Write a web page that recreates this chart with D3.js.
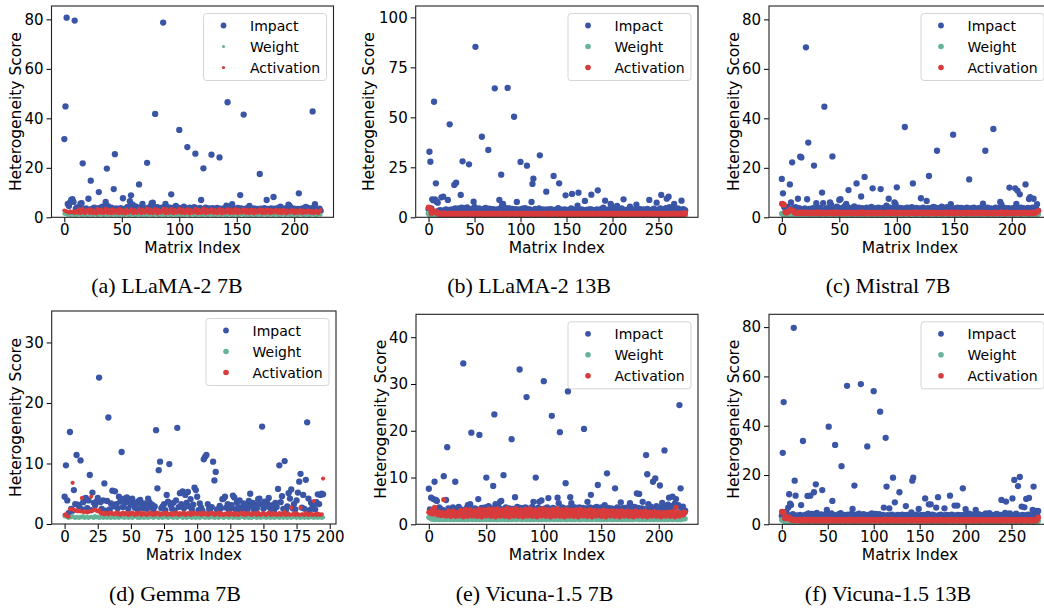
<!DOCTYPE html>
<html>
<head>
<meta charset="utf-8">
<script src="https://cdn.jsdelivr.net/npm/d3@7"></script>
<style>
body { margin: 0; background: #fff; }
svg { display: block; }
</style>
</head>
<body>
<svg id="chart" width="1044" height="608"></svg>
<script>

// ---- data (index = matrix index) ----
const impactA = [31.6,44.8,80.7,5.4,4.6,6,7,7.3,6.2,79.5,3.5,4,3.2,3.8,5.5,5.7,21.8,3.3,2.8,3.6,
2.5,7.5,3.1,14.8,3.4,2.7,3.9,3,2.4,3.6,10.2,3.8,3.1,4.3,2.9,3.5,6.2,19.7,4.5,3.3,
2.8,3.9,3.4,11.4,25.5,3.6,2.9,3.2,2.6,3.7,3.3,7.7,2.9,3.5,3.1,4.2,3.4,6.5,8.9,5.2,
4.8,3.6,4.4,3.2,3.9,13.3,3.7,4.1,5.4,3.4,2.9,3.6,22,3.8,3.1,4.4,5.7,5.9,4.3,41.8,
3.5,4.1,3.2,3.7,2.8,3.9,78.7,4.2,5.4,3.6,3.1,4,3.3,9.3,3.8,3.1,2.7,4.6,3.4,3.9,
35.3,3.6,3.2,2.9,4.3,3.7,3.1,28.4,3.5,3.9,3,3.4,2.8,4.1,25.7,3.6,3.2,2.9,3.8,7,
3.3,19.8,3.5,3.9,3.1,2.7,3.6,3.2,25.3,3.7,3.4,2.9,3.1,3.8,3.3,24.2,3.5,2.8,3.2,3.6,
3,4.7,46.5,3.4,2.9,3.7,5.3,3.1,3.5,2.8,3.3,3.8,3.1,9,3.6,3.2,41.5,3.4,2.9,3.7,
3.2,4.6,3.5,3,2.7,3.6,3.2,2.9,3.4,3.1,17.5,3.5,2.8,3.3,3.7,3,7,3.4,3.1,2.7,
3.6,3.2,8.2,3.5,2.9,3.3,3.8,3.1,4.3,3.4,2.8,3.2,3.6,3,3.4,5.1,4.6,3.9,3.3,2.9,
3.5,3.1,2.7,3.4,9.7,3.2,2.9,3.6,3.1,2.8,4.2,3.5,3.8,3,3.3,3.6,42.8,3.9,5.3,3.4,
3.1,2.8,3.5,2.6]
const weightA = [1.4,1.3,1.1,1,1.2,0.9,1,1.1,1,1.2,0.9,1,1.1,1.2,1,0.9,1.1,1,1.2,1,
0.9,1.1,1,1.2,1,0.9,1.1,1.3,1,0.9,1,1.1,1.2,1,0.9,1.1,1,1.2,1,1.1,
1,0.9,1.2,1.1,1,1,1.2,0.9,1.1,1,1.3,1,0.9,1.1,1.2,1,1,0.9,1.1,1.2,
1,1.1,0.9,1,1.2,1.1,1,0.9,1.2,1,1.1,1,0.9,1.2,1.1,1,1.3,0.9,1,1.1,
1.2,1,0.9,1.1,1,1.2,1,1.1,0.9,1,1.2,1.1,1,0.9,1.1,1.3,1,1,1.2,0.9,
1.1,1,1.2,0.9,1,1.1,1,1.2,1.1,0.9,1,1.1,1.2,1,0.9,1.1,1,1.2,1,1.1,
0.9,1,1.2,1.1,1,0.9,1.1,1.3,1,1,1.2,0.9,1.1,1,1.2,1,0.9,1.1,1.2,1,
1.1,0.9,1,1.2,1.1,1,0.9,1.1,1,1.2,1,1.1,0.9,1,1.3,1.1,1,0.9,1.2,1,
1,1.1,0.9,1.2,1,1.1,1,0.9,1.2,1.1,1,1,0.9,1.1,1.2,1,1.1,0.9,1,1.2,
1.1,1,0.9,1.1,1.2,1,1,0.9,1.1,1,1.2,1.1,0.9,1,1.1,1.2,1,0.9,1.1,1,
1.2,1,1.1,0.9,1,1.2,1.1,1,0.9,1.1,1,1.2,1,0.9,1.1,1,1.2,1.1,1,0.9,
1,1.1,1.2,1]
const activationA = [2.7,2.5,2.3,2.1,1.8,2.4,2,2.2,1.9,1.7,2.6,2.1,1.8,3.3,1.6,2.2,3.4,1.9,1.6,2.8,
2.2,3.1,1.7,3.3,2,1.6,2.7,1.9,1.5,3.4,2.3,1.8,3.2,2.1,1.6,2.6,3.5,2,1.7,3.1,
1.9,1.6,3.3,2.2,1.8,2.9,2,1.6,3.4,2.3,1.7,2.8,1.9,1.5,3.2,2.1,1.8,2.7,3.3,2,
1.6,3,2.2,1.7,2.6,3.4,1.9,1.6,3.1,2.3,1.8,2.9,3.6,2,1.7,3.2,2.1,1.6,2.8,3.4,
1.9,1.5,3,2.2,1.8,2.7,3.5,2,1.6,3.3,2.1,1.7,2.9,3.4,1.9,1.6,3.1,2.3,1.8,2.6,
3.5,2,1.7,3.2,2.2,1.6,2.8,3.3,1.9,1.5,3,2.1,1.8,2.7,3.4,2,1.6,3.1,2.2,1.7,
2.9,3.5,1.9,1.6,3.2,2.3,1.8,2.6,3.3,2,1.7,3,2.1,1.6,2.8,3.4,1.9,1.5,3.1,2.2,
1.8,2.7,3.3,2,1.6,3.2,2.1,1.7,2.9,3.4,1.9,1.6,3,2.3,1.8,2.6,3.3,2,1.7,3.1,
2.2,1.6,2.8,3.2,1.9,1.5,3,2.1,1.8,2.7,3.3,2,1.6,3.1,2.2,1.7,2.9,3.2,1.9,1.6,
3,2.3,1.8,2.6,3.1,2,1.7,2.9,2.1,1.6,2.8,3,1.9,1.5,2.7,2.2,1.8,2.6,3,2,
1.6,2.8,2.1,1.7,2.5,2.9,1.9,1.6,2.7,2.3,1.8,2.4,2.8,2,1.7,2.6,2.1,1.6,2.5,2.7,
1.9,1.6,2.4,3]

const impactB = [4.2,32.8,27.8,4.5,9,8.5,57.8,9,17,7.7,7.3,3.3,2.8,3.6,10,3.1,10.3,3.4,2.6,3.9,
3.2,8.7,3.5,46.5,3.8,2.9,3.3,4.1,16.2,4.5,17.3,3.7,3.1,4.4,3.6,11.2,4.8,28,3.3,4.2,
4.6,3.4,4.9,3.8,26.5,4,3.2,3.7,4.3,7.8,5.2,85.3,4.1,3.5,3.9,4.4,3.3,3.7,40.3,3.4,
4.2,3.6,4.7,3.1,3.8,33.7,4.3,3.5,3.9,3.2,4.1,3.6,64.5,3.4,3.9,3.1,3.7,8.7,4.5,21.3,
6.2,6.7,3.8,4.2,3.3,4.6,64.7,3.7,4.4,3.5,3.9,4.2,3.4,50.3,3.8,4.1,7.7,3.6,3.2,4,
27.7,3.5,4.3,3.8,3.1,4.6,3.7,25.8,4.1,3.4,3.9,3.2,7.7,16.7,19.3,3.6,4.2,3.3,3.8,3.1,
4.5,31,3.7,3.3,4,3.5,3.1,3.8,12.8,3.4,3.9,3.2,3.6,4.1,3.3,3.7,20.7,3.5,3.1,3.9,
3.4,4.6,17,3.6,3.2,3.8,3.1,3.5,3.9,11,3.3,3.7,3,3.6,3.2,4.4,11.7,3.4,3.8,3.1,
3.6,3.3,5.8,12.3,3.5,3.1,3.9,3.4,3.7,3.2,8.2,3.6,3.1,3.8,3.3,3.5,4.1,11.3,3.4,3.7,
3.1,3.6,3.2,3.9,13.5,3.3,3.7,3.1,4.2,3.5,4.8,3.2,8.3,3.6,3.1,3.8,3.4,3.9,6.7,5.8,
3.5,3.2,3.7,4.3,3.4,5.7,3.1,3.6,3.3,3.9,4.5,3.2,9,3.7,3.4,3.1,3.8,3.3,3.6,5.3,
3.2,3.9,3.4,3.1,3.7,3.5,6.3,3.2,3.8,3.4,4.1,3.1,3.6,3.3,3.9,3.5,3.2,3.7,4.2,3.4,
8.7,3.6,3.1,3.8,3.4,4.3,3.2,3.7,7.3,3.5,3.1,3.9,4.4,11.2,3.6,3.2,3.8,3.4,4.6,9.3,
3.5,10.3,5.1,3.7,3.3,3.9,4.2,6.7,3.6,3.2,3.8,4.4,3.4,3.9,3.1,8.3,3.6,4.1,3.7,3.5]
const weightB = [2,1.5,1.3,1.1,1,1.2,0.9,1,1.1,1,1.2,0.9,1,1.1,1.2,1,0.9,1.1,1,1.2,
1,0.9,1.1,1,1.2,1,0.9,1.1,1,1.2,0.9,1,1.1,1,1.2,1,0.9,1.1,1,1.1,
0.9,1.1,1,1.2,1,0.9,1.1,1,1.2,1,1.1,0.9,1,1.1,1.2,1,0.9,1,1.1,1,
1.1,1,0.9,1.2,1,1.1,1,0.9,1.1,1.2,1,1,0.9,1.1,1,1.2,1,1.1,0.9,1,
1,1.2,1,0.9,1.1,1,1.1,1.2,0.9,1,1.1,1,0.9,1.2,1,1.1,1,0.9,1.1,1,
1.2,1,1.1,0.9,1,1.1,1,1.2,1,0.9,1,1.1,1.2,1,0.9,1.1,1,1,1.2,0.9,
1,1.1,0.9,1,1.2,1,1.1,0.9,1,1.1,1.2,1,0.9,1,1.1,1,1.2,0.9,1.1,1,
1.1,0.9,1,1.2,1.1,1,0.9,1.1,1,1,1.2,0.9,1.1,1,1.1,0.9,1,1.2,1,1.1,
0.9,1,1.1,1,1.2,0.9,1,1.1,1.2,1,0.9,1.1,1,1.1,1,1.2,0.9,1,1.1,1,
1,1.2,0.9,1.1,1,1,1.1,0.9,1.2,1,1.1,1,0.9,1,1.2,1.1,1,0.9,1.1,1,
1.1,1,1,0.9,1.2,1.1,1,1.1,0.9,1,1,1.2,1.1,0.9,1,1.1,1,1.2,0.9,1,
1,0.9,1.2,1,1.1,1,0.9,1,1.1,1.2,1,0.9,1.1,1,1,1.2,1.1,0.9,1,1.1,
1.2,1,0.9,1.1,1,1.1,1.2,1,0.9,1,1.1,1,1.2,0.9,1.1,1,1,1.1,0.9,1.2,
0.9,1.1,1,1,1.2,0.9,1.1,1,1.1,1,0.9,1.2,1,1.1,1,0.9,1.1,1,1.2,1]
const activationB = [5,4.7,4.4,2.2,2.4,2.8,3,2.6,2.9,2.3,2,1.8,1.6,1.9,1.7,1.5,1.8,1.6,1.9,1.5,
1.7,1.5,1.8,1.4,1.6,1.9,1.5,1.7,1.4,1.8,1.6,1.5,1.9,1.4,1.7,1.6,1.8,1.5,1.4,1.7,
1.6,1.9,1.5,1.4,1.8,1.6,1.7,1.5,1.9,1.4,1.6,1.8,1.5,1.7,1.4,1.9,1.6,1.5,1.8,1.4,
1.7,1.5,1.6,1.9,1.4,1.8,1.5,1.7,1.6,1.4,1.9,1.5,1.8,1.6,1.4,1.7,1.5,1.9,1.6,1.8,
1.4,1.6,1.8,1.5,1.7,1.4,1.9,1.6,1.5,1.8,1.4,1.7,1.6,1.5,1.9,1.4,1.8,1.6,1.7,1.5,
1.8,1.4,1.6,1.7,1.5,1.9,1.4,1.6,1.8,1.5,1.7,1.4,1.6,1.9,1.5,1.8,1.4,1.7,1.6,1.5,
1.6,1.8,1.5,1.4,1.7,1.6,1.9,1.5,1.4,1.8,1.6,1.7,1.5,1.4,1.9,1.6,1.5,1.8,1.4,1.7,
1.5,1.7,1.4,1.8,1.6,1.5,1.7,1.9,1.4,1.6,1.5,1.8,1.7,1.4,1.6,1.9,1.5,1.7,1.4,1.6,
1.9,1.5,1.7,1.4,1.6,1.8,1.5,1.4,1.7,1.6,1.9,1.5,1.4,1.8,1.6,1.7,1.5,1.4,1.9,1.6,
1.4,1.7,1.6,1.5,1.8,1.4,1.6,1.9,1.5,1.7,1.4,1.6,1.8,1.5,1.7,1.4,1.9,1.6,1.5,1.8,
1.6,1.4,1.8,1.7,1.5,1.6,1.4,1.9,1.7,1.5,1.8,1.4,1.6,1.5,1.7,1.9,1.4,1.6,1.8,1.5,
1.7,1.6,1.4,1.8,1.5,1.9,1.6,1.4,1.7,1.5,1.6,1.8,1.4,1.7,1.5,1.6,1.9,1.4,1.8,1.6,
1.5,1.8,1.6,1.4,1.7,1.5,1.9,1.6,1.4,1.8,1.5,1.7,1.6,1.4,1.9,1.5,1.7,1.6,1.8,1.4,
1.6,1.5,1.8,1.7,1.4,1.6,1.9,1.5,1.7,1.4,1.8,1.6,1.5,1.7,1.4,1.9,1.6,1.8,1.5,2.2]

const impactC = [15.5,9.7,4.3,3.6,3.9,4.2,3.4,13.3,6,22.2,3.8,3.2,4.1,3.5,7.5,3.7,24.5,24.2,3.3,2.9,
3.6,68.7,7.3,30.2,3.4,3.1,2.8,3.7,20.9,3.2,5.7,3.5,2.9,3.8,3.3,10,5.7,44.7,3.4,3,
3.6,4.1,6,5,24.6,3.5,3.1,3.8,4.3,3.7,7,7.3,3.4,3.9,3.2,4.6,5.4,4.2,11,3.5,
3.1,3.8,3.3,4.4,3.6,13.7,3.2,3.9,3.4,8.4,3.7,3.1,16.3,3.5,3.9,3.3,2.9,3.6,4.2,11.7,
3.4,3,3.7,3.2,3.9,3.5,11.4,3.1,3.8,3.3,3.6,4.7,3.2,7.5,3.9,3.4,3.1,3.7,6,5.3,
12.1,3.5,3.2,3.8,3.4,3.1,3.6,36.5,3.3,3.9,3.5,3.1,3.7,4.1,13.7,3.4,3.2,3.8,3.5,3.1,
3.6,7.7,3.3,3.9,3.4,3.1,6.6,3.7,16.7,3.2,3.8,3.4,4.2,3.5,3.9,26.9,3.3,3.7,3.2,4.3,
3.6,3.2,3.9,3.5,4.1,3.3,3.8,5.3,3.4,33.4,3.1,3.7,3.3,3.9,3.5,3.2,3.8,3.4,3.1,3.6,
3.3,3.9,3.5,15.3,3.2,3.7,3.3,3.9,3.4,3.1,3.6,3.2,3.8,3.5,3.1,5.5,3.7,26.9,3.3,3.9,
3.4,3.1,3.6,3.2,35.7,3.5,3.9,3.3,3.7,3.4,6.2,5.2,3.5,3.2,3.8,3.4,3.1,3.7,12,3.3,
3.6,3.2,3.8,11.7,5.4,10.8,3.5,9.3,3.9,3.3,3.7,3.4,13.3,3.2,3.8,7.4,8.1,3.5,3.9,7.5,
3.4,3.7,5.3,2.7]
const weightC = [1.5,1.3,1.2,1.1,1,1.1,0.9,1.2,1.1,1,1.2,1,0.9,1.1,1,1.2,1,0.9,1.1,1,
1.1,1,1.2,0.9,1,1.1,1,1.2,1,0.9,1.1,1,1.1,1.2,0.9,1,1.1,1,1.2,1,
0.9,1.1,1,1.2,1,1.1,0.9,1,1.2,1.1,1,0.9,1.1,1,1.2,1,1.1,0.9,1,1.1,
1.2,1,0.9,1.1,1,1.2,1.1,0.9,1,1.1,1,1.2,1,0.9,1.1,1.2,1,1,1.1,0.9,
1,1.1,1.2,1,0.9,1.1,1,1.2,1.1,1,0.9,1,1.1,1.2,1,0.9,1.1,1,1.2,1.1,
0.9,1,1.1,1.2,1,0.9,1.1,1,1.1,1.2,1,0.9,1,1.1,1.2,1,1.1,0.9,1,1.2,
1.1,1.2,1,0.9,1.1,1,1.2,1,0.9,1.1,1.1,1,1.2,0.9,1,1.1,1,1.2,1.1,1,
1,0.9,1.1,1.2,1,1.1,1,0.9,1.2,1,1.1,1.2,1,0.9,1.1,1,1.1,1.2,0.9,1,
1.2,1.1,1,0.9,1.1,1.2,1,1,0.9,1.1,1.2,1,1.1,0.9,1,1.2,1,1.1,1,0.9,
1.1,1,1.2,1,0.9,1.1,1.2,1,1.1,0.9,1,1.1,1.2,1,0.9,1,1.1,1.2,1,1.1,
0.9,1.2,1,1.1,1,0.9,1.1,1.2,1,1,1.1,0.9,1.2,1,1.1,1,0.9,1.1,1.2,1,
1.1,1,1.2,1.3]
const activationC = [5.5,5.4,5,2,1.8,2.1,2.4,3,2.9,2.8,2.6,1.9,1.7,2,1.8,1.6,2.1,1.7,1.9,1.6,
1.8,2,1.6,1.9,1.7,1.5,2,1.8,1.6,1.9,1.7,2.1,1.5,1.8,1.6,2,1.7,1.9,1.5,1.8,
1.6,1.9,1.7,2,1.5,1.8,1.6,2.1,1.7,1.9,1.5,1.8,1.6,2,1.7,1.5,1.9,1.6,1.8,2,
1.7,1.5,1.9,1.6,1.8,2,1.5,1.7,1.9,1.6,2.1,1.8,1.5,1.7,2,1.6,1.9,1.8,1.5,1.7,
2,1.6,1.8,1.5,1.9,1.7,2,1.6,1.8,1.5,1.7,1.9,1.6,2.1,1.8,1.5,1.7,2,1.6,1.9,
1.5,1.8,1.7,2,1.6,1.9,1.5,1.7,1.8,2,1.6,1.5,1.9,1.7,1.8,1.6,2.1,1.5,1.9,1.7,
1.8,2,1.6,1.5,1.9,1.7,1.8,2,1.5,1.6,1.9,1.7,2,1.8,1.5,1.6,1.9,1.7,1.8,1.5,
1.9,1.6,1.8,2,1.7,1.5,1.6,1.9,2.1,1.7,1.5,1.8,1.6,2,1.9,1.7,1.5,1.8,1.6,1.9,
1.7,1.5,2,1.8,1.6,1.9,1.7,1.5,1.8,2,1.6,1.9,1.7,1.5,2,1.8,1.6,1.7,1.9,1.5,
1.6,1.9,1.7,1.8,1.5,2,1.6,1.8,1.7,1.5,1.9,2.1,1.6,1.8,1.5,1.7,2,1.6,1.9,1.7,
1.8,1.6,1.5,1.9,1.7,2,1.8,1.6,1.5,1.9,1.7,1.8,2,1.6,1.7,1.5,1.9,1.8,1.6,2,
1.7,1.9,2.1,2.6]

const impactD = [4.5,9.7,3.9,1.8,15.2,2.5,2.2,5.6,3.3,11.4,3.2,2.9,10.5,2.4,3.6,4.2,4.3,2.6,3.9,8.1,
2.3,5.2,3.5,3.1,3.7,4.3,24.2,3.6,2.5,3.9,6.7,2.2,3.8,17.6,2.4,3.4,5.5,2.9,5.4,3.3,
2.6,4.5,3.7,11.9,2.8,4.2,3.5,4.4,2.5,3.9,3.2,4.2,3.6,2.7,3.3,2.4,3.8,4,3.1,2.6,
3.4,3,2.5,4.2,3.6,2.8,3.2,2.4,2.9,15.5,5.9,8.9,10.3,2.6,2.9,3.3,2.3,4.8,3.7,9.9,
3.1,2.5,3.5,2.2,3.9,15.9,2.8,5.1,3.3,5.4,2.6,4.8,3.5,5.3,2.9,4.1,2.4,3.2,6,5.6,
4.5,2.3,3.4,2.7,2.2,10.7,11.1,11.4,3.3,2.5,1.9,2.8,10.3,7.2,8.6,2.4,2.1,3,2.6,4.1,
4.2,4.5,2.7,3.3,2.3,2.5,3.1,4.7,4.4,2.4,3.6,2.8,3.9,2.2,2.7,3.4,2.6,3.1,2.4,3.8,
5,2.9,3.5,2.3,3.2,2.6,4.1,4.2,3.3,16.1,2.5,3.7,2.9,3.4,4.3,2.7,2.4,3.1,2.2,3.5,
2.8,5.8,9.7,3.6,4.6,2.5,10.4,2.3,2.9,5.1,4.2,5.7,2.6,3.3,2.4,3.9,5.2,7,8.3,2.7,
4.8,2.5,7.3,16.8,4.2,2.3,3.5,2.8,3.1,2.4,3.6,4.9,3.3,4.8,5,4.9]
const weightD = [1.3,1.2,1.1,1,1.2,1.1,1.3,1.1,1,1.2,1.1,1,1.2,1.1,1.3,1,1.1,1.2,1,1.1,
1.2,1.1,1,1.3,1.1,1.2,1,1.1,1.2,1,1.1,1.3,1,1.2,1.1,1,1.2,1.1,1,1.2,
1.1,1,1.2,1.1,1.3,1,1.1,1.2,1,1.1,1.2,1,1.1,1.3,1.2,1,1.1,1,1.2,1.1,
1,1.2,1.1,1,1.2,1.1,1.3,1,1.1,1.2,1.1,1,1.2,1.1,1,1.3,1.1,1.2,1,1.1,
1.2,1.1,1,1.2,1.1,1,1.1,1.3,1.2,1,1.1,1.2,1,1.1,1.2,1.1,1,1.3,1.1,1,
1.1,1.2,1,1.1,1.3,1.1,1,1.2,1.1,1,1.2,1.1,1.3,1,1.1,1.2,1,1.1,1.2,1.1,
1,1.1,1.2,1.1,1,1.3,1.2,1,1.1,1.2,1,1.1,1,1.2,1.3,1.1,1,1.2,1.1,1,
1.2,1,1.1,1.3,1.1,1,1.2,1.1,1,1.2,1.1,1.3,1,1.1,1.2,1,1.1,1.2,1,1.1,
1.1,1.2,1,1.1,1.2,1,1.3,1.1,1,1.2,1.1,1,1.2,1.1,1.3,1,1.2,1.1,1,1.2,
1.1,1,1.2,1.1,1,1.3,1.1,1.2,1,1.1,1.2,1,1.1,1.2,1,1.1]
const activationD = [1.5,1.6,1.3,1.2,2.4,2.5,6.8,2.3,2.2,2.2,2.1,2.2,2.1,4.3,2,2.1,2,1.9,2,2.1,
4.5,2.2,2.3,2.4,2.2,2.1,2.3,1.8,1.7,1.9,1.6,1.8,1.7,1.6,1.9,1.7,1.8,1.6,1.7,1.9,
1.6,1.8,1.5,1.7,1.9,1.6,1.8,1.7,1.5,1.8,1.6,1.9,1.7,1.5,1.8,1.6,1.7,1.9,1.5,1.7,
1.8,1.6,1.5,1.7,1.9,1.6,1.8,1.5,1.7,1.6,1.9,1.8,1.5,1.7,1.6,1.8,1.9,1.5,1.7,1.6,
1.7,1.5,1.8,1.6,1.9,1.7,1.5,1.8,1.6,1.7,1.9,1.5,1.6,1.8,1.7,1.5,1.9,1.6,1.8,1.7,
1.6,1.8,1.7,1.5,1.9,1.6,1.7,1.8,1.5,1.6,1.9,1.7,1.8,1.5,1.6,1.7,1.9,1.5,1.8,1.6,
1.5,1.7,1.6,1.8,1.5,1.9,1.6,1.7,1.5,1.8,1.6,1.5,1.7,1.9,1.6,1.8,1.5,1.7,1.6,1.8,
1.7,1.5,1.6,1.8,1.7,1.5,1.9,1.6,1.5,1.7,1.8,1.6,1.5,1.7,1.9,1.6,1.5,1.8,1.6,1.7,
1.5,1.6,1.8,1.5,1.7,1.6,2,1.5,1.6,1.7,1.5,2.7,1.6,1.8,1.5,1.7,1.6,1.5,2.7,1.6,
1.6,1.5,1.8,1.7,1.5,1.6,1.7,1.5,3.8,1.6,1.5,1.7,1.6,1.5,1.6,7.5]

const impactE = [7.6,3.2,5.7,2.6,5.4,9.1,5.2,5,2.9,3.6,3.3,2.7,3.1,10.3,2.5,5.2,16.5,3.4,2.8,3.1,
2.6,3.6,2.9,9.1,3.3,2.4,3.7,2.8,3.2,2.5,34.4,3,2.7,3.5,4.1,2.9,4.3,19.6,3.1,2.6,
3.4,2.8,3.2,5.4,19.1,2.7,3.5,2.9,3.3,3.6,10,2.8,3.9,3.1,2.6,3.4,8.2,23.5,4.3,3,
4.1,3.5,4.8,5,3.2,10.5,2.8,3.6,3.1,2.7,3.4,2.9,18.2,3.3,2.6,5.8,3.1,3.7,2.8,33.1,
3.5,3,3.3,2.7,3.6,27.2,3.1,2.8,3.4,3,3.7,4.8,3.2,10,2.9,3.5,4.8,3.3,5.1,2.8,
30.6,3.4,2.9,3.6,5.6,3.1,2.7,23.2,3.5,3,3.3,2.8,5.7,4.5,19.7,3.2,3.6,2.9,3.4,8.8,
3.1,28.4,3.5,5.8,4.5,3.2,2.8,3.6,3.1,3.4,2.7,3.6,3.3,2.9,3.5,20.4,3.1,3.4,4.8,2.9,
3.6,6.3,3.2,2.8,3.5,3.1,3.7,8.4,3.2,2.8,3.6,3.1,3.4,4.1,2.9,10.9,3.5,3.1,2.7,3.4,
3.2,2.9,7.7,3.3,3.6,2.8,3.2,4.7,3.4,2.9,3.5,3.1,2.7,3.6,3.3,4.5,3,3.4,2.9,3.7,
3.2,6.6,3.5,6.5,3,3.4,4.8,3.3,2.9,14.8,10.7,4.3,3.4,3.8,3.1,9.1,3.5,9.8,3.9,3.2,
3.6,8.3,3.4,4.6,3.1,15.8,3.7,3.3,4.2,5.7,3.5,3.9,5.9,3.6,4.4,5.4,3.8,4.1,25.5,7.7,
3.4,3.8,2.4,2.9]
const weightE = [1.5,1.4,1.2,1.1,1.3,1,1.2,1.1,1.3,1,1.1,1.2,1,1.3,1.1,1,1.2,1.1,1.4,1,
1.1,1.3,1,1.2,1.1,1,1.3,1.2,1,1.1,1.2,1,1.4,1.1,1,1.2,1.1,1.3,1,1.1,
1.2,1,1.1,1.3,1,1.2,1.1,1,1.3,1.1,1,1.2,1.1,1,1.4,1.2,1,1.1,1.3,1,
1,1.2,1.3,1,1.1,1.2,1,1.1,1.3,1,1.2,1.1,1,1.3,1.1,1.2,1,1.1,1.2,1.3,
1.1,1,1.2,1.1,1.3,1,1.1,1.2,1,1.4,1.1,1,1.2,1.1,1.3,1,1.2,1.1,1,1.2,
1.3,1.1,1,1.2,1.1,1,1.3,1.1,1.2,1,1.1,1.3,1,1.2,1.1,1,1.2,1.3,1.1,1,
1,1.2,1.1,1.3,1,1.1,1.2,1,1.1,1.3,1.2,1,1.1,1,1.2,1.3,1.1,1,1.2,1.1,
1.2,1.1,1,1.1,1.3,1.2,1,1.1,1.2,1,1.3,1.1,1,1.2,1.1,1,1.1,1.3,1.2,1,
1.1,1,1.3,1.2,1,1.1,1.1,1.3,1,1.2,1.1,1,1.2,1.3,1,1.1,1.2,1,1.1,1.2,
1.3,1.1,1.2,1,1.1,1.3,1,1.2,1.1,1,1.2,1.1,1.3,1,1.1,1.2,1,1.3,1.1,1,
1.1,1.2,1,1.3,1.1,1,1.2,1.1,1,1.3,1.2,1.1,1,1.2,1.1,1.3,1,1.1,1.2,1,
1.2,1.1,1.3,1.2]
const activationE = [2.6,2.5,2.3,3.1,2.2,3.6,2.7,2.4,2,2.6,2.2,1.9,2.5,5.3,2.1,1.8,2.4,2.8,2,1.7,
2.6,2.9,1.9,1.7,2.5,2.3,1.8,2.7,3,2,1.6,2.8,3.2,1.9,1.7,2.9,3.1,2.2,1.8,2.6,
3,2.1,1.7,2.8,3.2,2,1.6,2.6,3.1,2.3,1.8,2.7,3.3,2,1.7,2.9,3.2,2.1,1.6,2.8,
3.3,2.2,1.8,2.6,3.1,2,1.7,2.9,3.4,2.1,1.6,2.7,3.2,2.3,1.8,2.8,3.3,2,1.7,2.6,
3.1,2.2,1.6,2.9,3.2,2.1,1.8,2.7,3.3,2,1.7,2.8,3.1,2.3,1.6,2.6,3.2,2.1,1.8,2.9,
3.3,2,1.7,2.7,3.1,2.2,1.6,2.8,3.2,2.1,1.8,2.6,3.3,2,1.7,2.9,3.1,2.3,1.6,2.7,
3.2,2.1,1.8,2.8,3,2.2,1.7,2.6,3.1,2,1.6,2.9,3.2,2.1,1.8,2.7,3,2.2,1.7,2.8,
3.1,2,1.6,2.6,3,2.3,1.8,2.7,2.9,2.1,1.7,2.8,3,2,1.6,2.6,2.9,2.2,1.8,2.7,
2.9,2.1,1.7,2.5,2.8,2,1.6,2.6,2.9,2.2,1.8,2.5,2.8,2.1,1.7,2.6,2.7,2,1.6,2.5,
2.8,2.2,1.8,2.4,2.7,2,1.7,2.5,2.8,2.1,1.6,2.4,2.6,2,1.8,2.5,2.7,2.2,1.7,2.4,
2.6,2.1,1.6,2.3,2.5,2,1.8,2.4,2.6,2.2,1.7,2.5,2.7,2.1,1.6,3.6,2.6,2,1.8,2.4,
2.2,2,2.6,2.5]

const impactF = [3.5,29,49.6,4.6,3.2,5.1,3.8,6.8,12.2,8.4,7.8,3.3,4.1,79.7,17.7,11.6,3.6,2.9,3.4,2.7,
3.8,7.8,3.1,33.8,3.5,2.8,3.9,3.2,11.5,4.4,3.7,11.6,3,4.2,3.4,13,3.8,16.2,4.6,3.1,
3.7,2.9,3.5,4,13.9,3.3,3.8,2.8,3.4,5.8,4.3,39.6,3.6,3.1,4.4,9.5,3.2,3.7,32.2,3.5,
2.9,3.4,4.1,3.2,4.5,23.6,3.6,3,3.8,3.3,2.8,56.2,3.9,3.4,3.1,3.7,4.2,6.2,3.5,15.7,
3.3,3.9,3.1,3.6,4.3,3.2,56.9,3.7,3.4,4.1,3,3.6,3.3,31.6,3.8,3.2,3.9,3.5,4.4,3.1,
54,3.7,4.2,3.3,3.9,3.5,4.1,45.7,3.6,3.2,3.8,6.8,3.4,35.1,15.3,3.7,3.1,6.5,3.6,3.3,
3.9,18.9,3.2,8.9,3.5,3.1,3.8,3.3,13,3.6,3.2,3.9,3.4,3.1,3.7,7.4,3.3,3.8,3.1,3.5,
3.2,4.8,17.7,18.9,3.6,3.3,3.9,3.1,3.5,6.2,3.2,3.7,3.4,3.1,3.8,3.3,10.5,3.6,3.2,4.2,
8.1,3.5,8.1,3.3,3.9,3.1,3.6,3.4,6.8,3.2,11,3.7,3.3,3.9,3.1,3.6,3.4,6.5,3.2,3.8,
3.5,3.1,3.7,11.6,3.3,3.9,3.4,3.1,7.6,3.6,3.2,7.6,3.8,3.4,3.1,3.7,3.3,14.6,3.5,3.9,
6.1,3.2,3.6,3.4,4.3,3.1,3.7,3.3,3.9,3.5,3.2,5.8,3.6,3.3,4.1,3.4,3.8,3.1,3.6,3.2,
3.9,3.5,4.4,3.3,3.7,3.1,4.5,3.4,3.8,3.2,3.6,3.3,3.9,3.5,4.2,3.1,3.7,3.4,3.8,9.9,
3.2,3.6,3.3,4.6,9.2,3.5,3.1,3.8,4.4,3.4,3.9,10.5,3.3,18,3.7,4.3,3.2,15.5,3.6,19.2,
3.4,7.2,3.8,3.2,6.9,3.6,10.3,3.3,3.9,10.7,3.5,3.1,3.7,5.8,15.3,3.4,3.8,5.4,3.6,5.4]
const weightF = [1.8,1.7,1.5,1.2,1.1,1,1.2,1.3,1.1,1,1.2,1,1.1,0.9,1,1.1,1.2,1,0.9,1.1,
1,1.1,1.2,1,0.9,1.1,1,1.2,1.1,0.9,1,1.1,1,1.2,0.9,1,1.1,1.2,1,1,
1.1,0.9,1,1.2,1.1,1,0.9,1.1,1,1.2,1,1.1,0.9,1,1.1,1.2,1,0.9,1.1,1,
1.2,1,1.1,0.9,1,1.2,1.1,1,0.9,1.1,1,1.2,1.1,1,0.9,1,1.1,1.2,1,0.9,
1,1.2,0.9,1.1,1,1,1.2,1.1,0.9,1,1.1,1,1.2,0.9,1.1,1,1,1.1,1.2,1,
0.9,1.1,1,1.2,1,1.1,0.9,1,1.2,1.1,1,0.9,1.1,1.2,1,1,1.1,0.9,1,1.2,
1.1,1,1.2,1,0.9,1.1,1.2,1,1,0.9,1.1,1.2,1,1.1,0.9,1,1.2,1,1.1,1,
1,1.1,0.9,1,1.2,1,1.1,1.2,0.9,1,1,1.1,1.2,1,0.9,1.1,1,1.2,1,1.1,
1.2,0.9,1,1.1,1,1.2,1,0.9,1.1,1.2,1,1,1.1,0.9,1.2,1,1.1,1,0.9,1.1,
1,1.2,1.1,0.9,1,1.1,1.2,1,1,1.1,0.9,1,1.2,1.1,1,0.9,1,1.1,1.2,1,
1.1,1,0.9,1.2,1.1,1,1,1.2,0.9,1.1,1,1.1,1,1.2,0.9,1,1.1,1,1.2,0.9,
0.9,1.1,1.2,1,1,1.1,0.9,1.2,1,1.1,1.2,1,0.9,1,1.1,1.2,1,1.1,0.9,1,
1.2,1,1.1,0.9,1.1,1.2,1,1,1.1,0.9,1,1.2,1.1,1,1,0.9,1.2,1.1,1,1.1,
1,0.9,1.1,1.2,1,1.1,1,1.2,0.9,1,1.1,1,1.2,1.1,0.9,1,1.1,1,1.2,1.3]
const activationF = [5.1,5,4.8,2.6,2.4,2.8,3,2.5,2.7,2.2,1.9,1.7,2,1.6,1.8,1.5,1.9,1.7,1.6,1.8,
1.5,1.8,1.6,1.4,1.9,1.7,1.5,1.8,1.6,2,1.4,1.7,1.5,1.9,1.6,1.8,1.4,1.7,1.5,1.9,
1.6,1.4,1.8,1.7,1.5,1.9,1.6,1.4,1.8,1.5,1.7,2,1.6,1.4,1.9,1.5,1.8,1.6,1.7,1.4,
1.8,1.6,1.5,1.9,1.4,1.7,1.6,1.8,1.5,1.4,1.9,1.7,1.6,1.5,1.8,2,1.4,1.6,1.7,1.5,
1.4,1.7,1.9,1.5,1.6,1.8,1.4,1.7,2,1.5,1.6,1.9,1.4,1.8,1.5,1.7,1.6,1.4,1.9,1.6,
1.7,1.5,1.4,1.8,1.6,1.9,1.5,1.7,1.4,1.6,1.8,1.5,2,1.7,1.4,1.6,1.9,1.5,1.8,1.6,
1.5,1.9,1.6,1.4,1.7,1.5,1.8,1.6,1.9,1.4,1.7,1.5,1.6,1.8,1.4,1.9,1.7,1.5,1.6,1.8,
1.6,1.4,1.8,1.7,1.5,1.6,1.9,1.4,1.7,1.8,1.5,1.6,1.4,1.9,1.7,1.5,1.8,1.6,1.4,1.7,
1.9,1.6,1.5,1.8,1.4,1.7,1.6,1.5,1.9,1.7,1.4,1.8,1.6,1.5,1.7,1.9,1.4,1.6,1.8,1.5,
1.4,1.8,1.7,1.5,1.9,1.6,1.4,1.7,1.5,1.8,1.6,1.9,1.5,1.4,1.7,1.6,1.8,1.5,1.9,1.4,
1.7,1.5,1.6,1.9,1.4,1.8,1.7,1.5,1.6,1.4,1.9,1.7,1.8,1.5,1.6,1.4,1.7,1.9,1.5,1.6,
1.8,1.6,1.4,1.7,1.5,1.9,1.6,1.8,1.4,1.7,1.5,1.6,1.9,1.4,1.8,1.7,1.5,1.6,1.4,1.9,
1.5,1.7,1.9,1.6,1.4,1.8,1.5,1.7,1.6,1.9,1.4,1.5,1.8,1.7,1.6,1.4,1.9,1.5,1.7,1.8,
1.6,1.4,1.7,1.8,1.5,1.9,1.6,1.4,1.7,1.5,1.8,1.6,1.9,1.4,1.7,1.5,1.8,1.6,2.1,2.8]

// tick values shown on each panel
const xTicks200 = [0, 50, 100, 150, 200]
const xTicks250 = [0, 50, 100, 150, 200, 250]
const xTicksGemma = [0, 25, 50, 75, 100, 125, 150, 175, 200]
const yTicks80 = [0, 20, 40, 60, 80]
const yTicks100 = [0, 25, 50, 75, 100]
const yTicks30 = [0, 10, 20, 30]
const yTicks40 = [0, 10, 20, 30, 40]

const titles = ["(a) LLaMA-2 7B", "(b) LLaMA-2 13B", "(c) Mistral 7B",
                "(d) Gemma 7B", "(e) Vicuna-1.5 7B", "(f) Vicuna-1.5 13B"]
const seriesNames = ["Impact", "Weight", "Activation"]

// ---- layout ----
const panels = [
    { impact: impactA, weight: weightA, activation: activationA, xTicks: xTicks200, yTicks: yTicks80, yMax: 85.4,
      box: [51.5, 6, 333.5, 217.3], ylabX: 21, titleX: 167, titleY: 293, rSmall: 2.0, legSmall: 1.6 },
    { impact: impactB, weight: weightB, activation: activationB, xTicks: xTicks250, yTicks: yTicks100, yMax: 105.7,
      box: [415.7, 6, 698, 217.3], ylabX: 374, titleX: 529, titleY: 293, rSmall: 2.9, legSmall: 2.8 },
    { impact: impactC, weight: weightC, activation: activationC, xTicks: xTicks200, yTicks: yTicks80, yMax: 85.4,
      box: [769, 6, 1051, 217.3], ylabX: 738.5, titleX: 888, titleY: 293, rSmall: 2.9, legSmall: 2.8 },
    { impact: impactD, weight: weightD, activation: activationD, xTicks: xTicksGemma, yTicks: yTicks30, yMax: 35.2,
      box: [51.7, 311, 336, 524], ylabX: 21, titleX: 175, titleY: 601, rSmall: 2.1, legSmall: 2.8 },
    { impact: impactE, weight: weightE, activation: activationE, xTicks: xTicks200, yTicks: yTicks40, yMax: 44.9,
      box: [416, 314.3, 698, 524.3], ylabX: 385.5, titleX: 534.5, titleY: 601, rSmall: 2.6, legSmall: 2.8 },
    { impact: impactF, weight: weightF, activation: activationF, xTicks: xTicks250, yTicks: yTicks80, yMax: 85.2,
      box: [769, 314.3, 1051, 524.3], ylabX: 738.5, titleX: 888, titleY: 601, rSmall: 2.9, legSmall: 2.8 }
]

const colors = ["#3a55a6", "#66b497", "#d83b3c"]
const rImpact = 3.15
const font = "'DejaVu Sans', sans-serif"

const svg = d3.select("#chart")
svg.append("rect").attr("width", 1044).attr("height", 608).attr("fill", "#fff")
const defs = svg.append("defs")

panels.forEach((p, k) => {
    const [left, top, right, bottom] = p.box
    const R = p.impact.length - 1

    // matplotlib default 5% x margins, y starts at 0
    const x = d3.scaleLinear().domain([-0.05 * R, 1.05 * R]).range([left, right])
    const y = d3.scaleLinear().domain([0, p.yMax]).range([bottom, top])

    const g = svg.append("g")

    defs.append("clipPath").attr("id", "clip" + k)
        .append("rect")
        .attr("x", left).attr("y", top)
        .attr("width", right - left).attr("height", bottom - top)

    // points: impact first, activation on top
    const plot = g.append("g").attr("clip-path", `url(#clip${k})`)
    const series = [[p.impact, rImpact], [p.weight, p.rSmall], [p.activation, p.rSmall]]
    series.forEach(([vals, r], s) => {
        plot.append("g").selectAll("circle")
            .data(vals)
            .enter()
            .append("circle")
            .attr("cx", (d, i) => x(i))
            .attr("cy", d => y(d))
            .attr("r", r)
            .attr("fill", colors[s])
    })

    // axes
    g.append("g")
        .attr("transform", `translate(0,${bottom})`)
        .call(d3.axisBottom(x).tickValues(p.xTicks).tickSize(5).tickPadding(2))
    g.append("g")
        .attr("transform", `translate(${left},0)`)
        .call(d3.axisLeft(y).tickValues(p.yTicks).tickSize(5).tickPadding(3))
    g.selectAll(".domain").remove()
    g.selectAll(".tick line").attr("stroke", "#000").attr("stroke-width", 1)
    g.selectAll(".tick text")
        .attr("font-family", font)
        .attr("font-size", 15)
        .attr("fill", "#000")

    // frame
    g.append("rect")
        .attr("x", left).attr("y", top)
        .attr("width", right - left).attr("height", bottom - top)
        .attr("fill", "none")
        .attr("stroke", "#222")
        .attr("stroke-width", 1.1)

    // legend (upper right)
    const lw = 123, lh = 67
    const lx = right - 7 - lw, ly = top + 7.5
    const leg = g.append("g")
    leg.append("rect")
        .attr("x", lx).attr("y", ly)
        .attr("width", lw).attr("height", lh)
        .attr("rx", 3)
        .attr("fill", "#fff").attr("fill-opacity", 0.85)
        .attr("stroke", "#d5d5d5")
    seriesNames.forEach((name, s) => {
        const cy = ly + 12 + s * 21
        leg.append("circle")
            .attr("cx", lx + 20).attr("cy", cy)
            .attr("r", s === 0 ? 2.9 : p.legSmall)
            .attr("fill", colors[s])
        leg.append("text")
            .attr("x", lx + 46.5).attr("y", cy + 5)
            .attr("font-family", font).attr("font-size", 14)
            .text(name)
    })

    // axis labels
    g.append("text")
        .attr("x", (left + right) / 2).attr("y", bottom + 35.5)
        .attr("text-anchor", "middle")
        .attr("font-family", font).attr("font-size", 15.5)
        .text("Matrix Index")
    g.append("text")
        .attr("transform", `translate(${p.ylabX},${(top + bottom) / 2}) rotate(-90)`)
        .attr("text-anchor", "middle")
        .attr("font-family", font).attr("font-size", 15.5)
        .text("Heterogeneity Score")

    // caption
    g.append("text")
        .attr("x", p.titleX).attr("y", p.titleY)
        .attr("text-anchor", "middle")
        .attr("font-family", "'Liberation Serif', 'Times New Roman', serif")
        .attr("font-size", 22)
        .text(titles[k])
})
</script>
</body>
</html>
